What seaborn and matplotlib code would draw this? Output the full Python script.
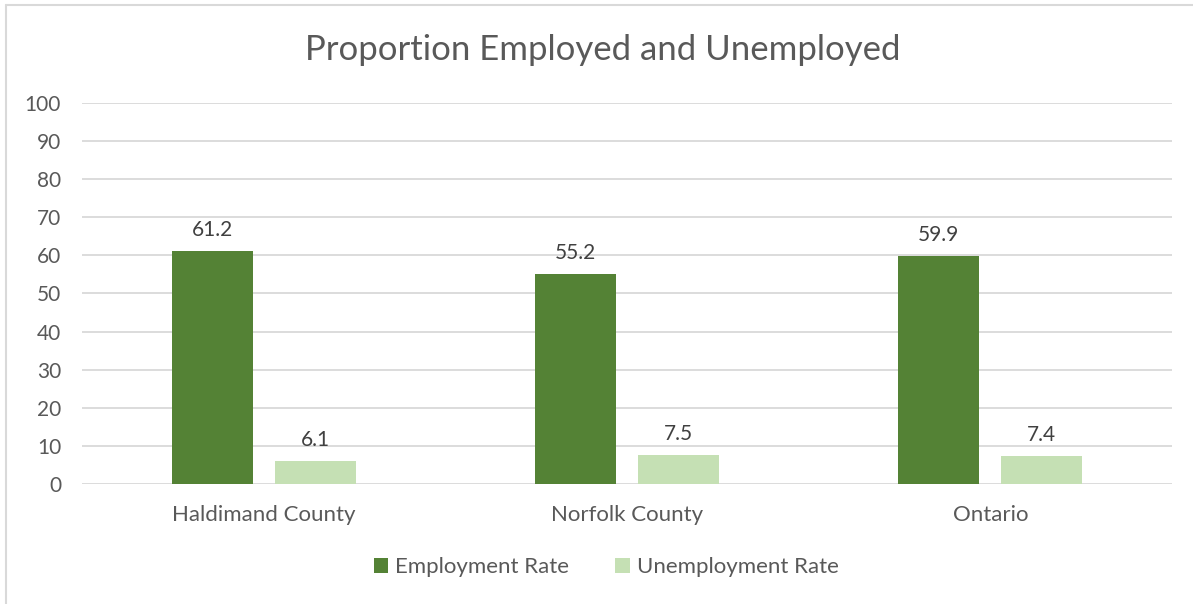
import matplotlib
matplotlib.use("Agg")
import matplotlib.pyplot as plt
from matplotlib.lines import Line2D
from matplotlib.patches import Patch
import seaborn as sns
import pandas as pd

regions = ["Haldimand County", "Norfolk County", "Ontario"]
employment_rate = [61.2, 55.2, 59.9]
unemployment_rate = [6.1, 7.5, 7.4]
series_names = ["Employment Rate", "Unemployment Rate"]
y_ticks = [0, 10, 20, 30, 40, 50, 60, 70, 80, 90, 100]

colors = {"Employment Rate": "#548235", "Unemployment Rate": "#C5E0B4"}
text_color = "#595959"
grid_color = "#D9D9D9"

df = pd.DataFrame({
    "Region": regions * 2,
    "Rate": employment_rate + unemployment_rate,
    "Series": [series_names[0]] * 3 + [series_names[1]] * 3,
})

sns.set_theme(style="white")
plt.rcParams["font.family"] = ["Lato", "DejaVu Sans"]

fig = plt.figure(figsize=(11.93, 6.04), dpi=100)
ax = fig.add_axes([0.0687, 0.1987, 0.9137, 0.6308])

sns.barplot(data=df, x="Region", y="Rate", hue="Series", order=regions,
            hue_order=series_names, palette=colors, saturation=1,
            width=0.568, gap=0.215, ax=ax, legend=False, zorder=3,
            linewidth=0)

ax.set_ylim(0, 100)
ax.set_xlim(-0.5, 2.5)
ax.set_yticks(y_ticks)
ax.yaxis.grid(True, color=grid_color, linewidth=1.3, zorder=0)
ax.set_axisbelow(True)
for s in ax.spines.values():
    s.set_visible(False)
ax.tick_params(axis="y", length=0, pad=15, labelsize=15, labelcolor=text_color)
ax.tick_params(axis="x", length=0, pad=15, labelsize=16, labelcolor=text_color)
ax.set_xlabel("")
ax.set_ylabel("")

for cont in ax.containers:
    ax.bar_label(cont, fmt="%.1f", padding=8, fontsize=15, color="#404040")

fig.text(0.505, 0.918, "Proportion Employed and Unemployed", ha="center",
         va="center", fontsize=25, color=text_color)

handles = [Patch(facecolor=colors[n], edgecolor="none") for n in series_names]
fig.legend(handles, series_names, loc="center", bbox_to_anchor=(0.508, 0.061),
           ncol=2, frameon=False, fontsize=16, labelcolor=text_color,
           handlelength=0.65, handleheight=0.65, columnspacing=2.1,
           handletextpad=0.3)

# chart area outline
fig.add_artist(Line2D([0.005, 0.005], [0, 0.992], color=grid_color, lw=1.5,
                      transform=fig.transFigure))
fig.add_artist(Line2D([0.005, 1.0], [0.992, 0.992], color=grid_color, lw=1.5,
                      transform=fig.transFigure))

fig.savefig("out.png", dpi=100)
